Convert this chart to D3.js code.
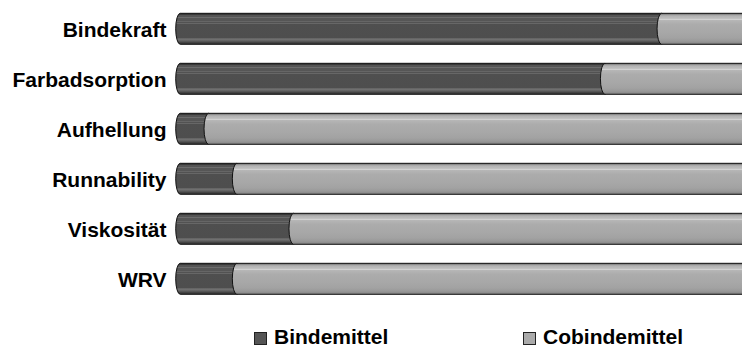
<!DOCTYPE html>
<html>
<head>
<meta charset="utf-8">
<script src="https://cdn.jsdelivr.net/npm/d3@7"></script>
<style>
  html, body { margin: 0; padding: 0; background: #fff; }
  svg { display: block; }
  text { font-family: "Liberation Sans", Arial, sans-serif; font-weight: bold; fill: #000; }
</style>
</head>
<body>
<svg id="chart" width="742" height="349"></svg>
<script>
// Share (%) of each component per property
const categories = ["Bindekraft", "Farbadsorption", "Aufhellung", "Runnability", "Viskosität", "WRV"];
const bindemittel = [85, 75, 5, 10, 20, 10];
const cobindemittel = [15, 25, 95, 90, 80, 90];
const seriesNames = ["Bindemittel", "Cobindemittel"];

const W = 742, H = 349;
const svg = d3.select("#chart");

const x = d3.scaleLinear().domain([0, 100]).range([175.7, 742]);
const y = d3.scaleBand().domain(categories).range([3.8, 303.8])
  .paddingInner(0.38).paddingOuter(0.19);

const defs = svg.append("defs");

// Cylinder shading: horizontal stripes via hard-ish gradient stops
function cylinder(id, stops) {
  const g = defs.append("linearGradient").attr("id", id)
    .attr("x1", 0).attr("y1", 0).attr("x2", 0).attr("y2", 1);
  stops.forEach(([o, c]) => g.append("stop").attr("offset", o).attr("stop-color", c));
}
cylinder("gDark", [
  [0, "#2a2a2a"], [0.04, "#3a3a3a"], [0.07, "#545454"], [0.11, "#555"],
  [0.13, "#747474"], [0.15, "#565656"], [0.24, "#565656"], [0.26, "#6c6c6c"],
  [0.28, "#525252"], [0.31, "#525252"], [0.33, "#686868"], [0.35, "#4f4f4f"],
  [0.80, "#4e4e4e"], [0.83, "#848484"], [0.86, "#5a5a5a"], [0.89, "#6c6c6c"],
  [0.92, "#4a4a4a"], [0.97, "#3c3c3c"], [1, "#2e2e2e"]
]);
cylinder("gLight", [
  [0, "#5a5a5a"], [0.04, "#8e8e8e"], [0.08, "#b2b2b2"], [0.16, "#bdbdbd"],
  [0.20, "#d2d2d2"], [0.23, "#b6b6b6"], [0.35, "#acacac"], [0.6, "#a8a8a8"],
  [0.80, "#a2a2a2"], [0.90, "#989898"], [0.96, "#8a8a8a"], [1, "#7a7a7a"]
]);

const rx = 4.5;

// Segment outline: left half-ellipse cap, flat top/bottom, right half-ellipse cap
function segmentPath(v0, v1, top, h) {
  const ry = h / 2, bot = top + h;
  const a = x(v0) + rx, b = x(v1) + rx;
  return `M${a},${top} L${b},${top} A${rx},${ry} 0 0 1 ${b},${bot} L${a},${bot} A${rx},${ry} 0 0 1 ${a},${top} Z`;
}

const rows = categories.map((c, i) => ({
  cat: c,
  segs: [
    { s: 0, e: bindemittel[i], fill: "url(#gDark)" },
    { s: bindemittel[i], e: bindemittel[i] + cobindemittel[i], fill: "url(#gLight)" }
  ]
}));

const rowG = svg.selectAll("g.row").data(rows).join("g").attr("class", "row");

// Dark segment drawn first, the light one overlaps its right edge
rowG.selectAll("path.seg")
  .data(d => d.segs.map(s => ({ ...s, cat: d.cat })))
  .join("path")
  .attr("class", "seg")
  .attr("d", d => segmentPath(d.s, d.e, y(d.cat), y.bandwidth()))
  .attr("fill", d => d.fill)
  .attr("stroke", "#111")
  .attr("stroke-width", 1);

// Category labels
svg.selectAll("text.cat").data(categories).join("text")
  .attr("class", "cat")
  .attr("x", 166.5)
  .attr("y", d => y(d) + y.bandwidth() / 2 + 8)
  .attr("text-anchor", "end")
  .style("font-size", "21px")
  .text(d => d);

// Legend
const legendX = [254, 523];
const legendFill = ["#555555", "#aaaaaa"];
const lg = svg.selectAll("g.legend").data(seriesNames).join("g").attr("class", "legend")
  .attr("transform", (d, i) => `translate(${legendX[i]},332)`);
lg.append("rect").attr("x", 0.5).attr("y", 0.5).attr("width", 12).attr("height", 12)
  .attr("fill", (d, i) => legendFill[i]).attr("stroke", "#222").attr("stroke-width", 1);
lg.append("text").attr("x", 20).attr("y", 12)
  .style("font-size", "21px").text(d => d);
</script>
</body>
</html>
